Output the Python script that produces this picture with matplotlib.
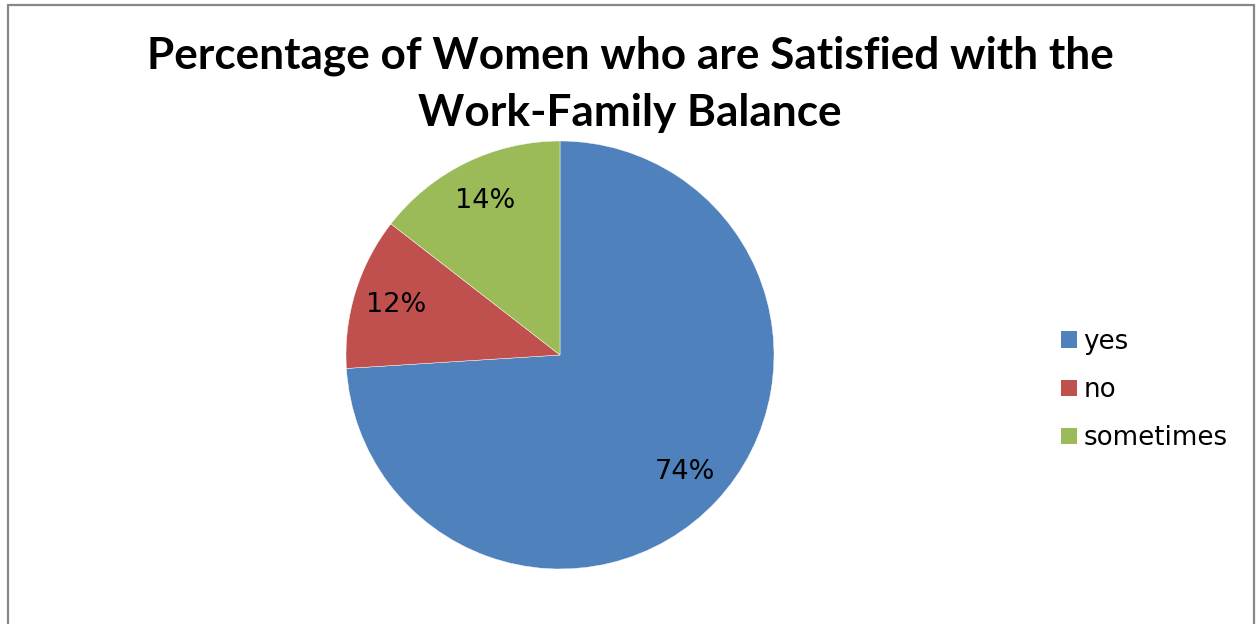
import matplotlib
matplotlib.use("Agg")
import matplotlib.pyplot as plt
from matplotlib.patches import Rectangle

categories = ["yes", "no", "sometimes"]
values = [74, 11.5, 14.5]
pct_labels = ["74%", "12%", "14%"]
colors = ["#4F81BD", "#C0504D", "#9BBB59"]
title_lines = ["Percentage of Women who are Satisfied with the", "Work-Family Balance"]

W, H = 1259, 624
fig = plt.figure(figsize=(W / 100, H / 100), dpi=100)
fig.patch.set_facecolor("white")

# pie axes: center (560,355), radius 214 px
cx, cy, r = 560, 355, 214
ax = fig.add_axes([(cx - r) / W, 1 - (cy + r) / H, 2 * r / W, 2 * r / H])
wedges, texts, autotexts = ax.pie(
    values, colors=colors, startangle=90, counterclock=False,
    autopct="%1.0f%%", pctdistance=0.8, radius=1,
    wedgeprops=dict(edgecolor="white", linewidth=0.3),
    textprops=dict(fontsize=19.5, color="black", family="DejaVu Sans"),
)
for t, s in zip(autotexts, pct_labels):
    t.set_text(s)
ax.set_xlim(-1, 1)
ax.set_ylim(-1, 1)
ax.set_aspect("equal")
ax.axis("off")

for line, base_y in zip(title_lines, [68, 126]):
    fig.text(630 / W, 1 - base_y / H, line, ha="center", va="baseline",
             fontsize=31.8, fontweight="bold", family="Lato")

leg = fig.legend(wedges, categories, loc="center left",
                 bbox_to_anchor=(1061 / W, 1 - 390 / H), bbox_transform=fig.transFigure,
                 frameon=False, handlelength=0.6, handleheight=0.6,
                 handletextpad=0.25, labelspacing=0.85, borderpad=0, borderaxespad=0,
                 prop=dict(family="DejaVu Sans", size=18.8))
for h in leg.legend_handles:
    h.set_edgecolor("none")

border = Rectangle((7.5 / W, -0.2), (1254 - 7.5) / W, 1.2 - 4.5 / H,
                   transform=fig.transFigure, fill=False, edgecolor="#878787",
                   linewidth=1.6, clip_on=False)
fig.patches.append(border)

fig.savefig("out.png", dpi=100, facecolor="white")
